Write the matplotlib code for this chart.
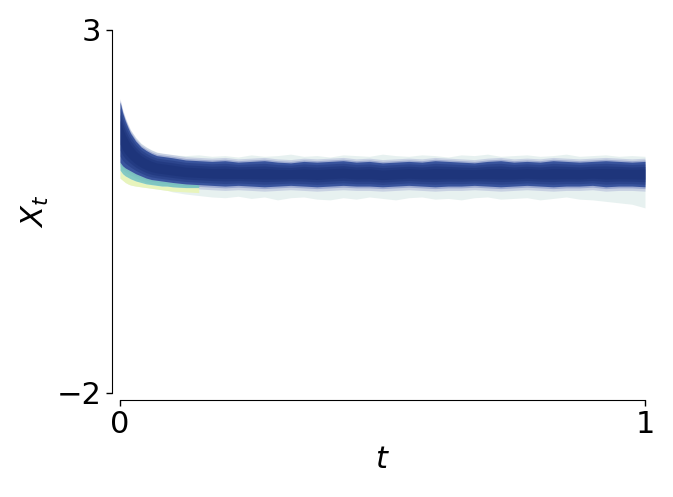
"""Band of simulated paths X_t relaxing from about 2 to about 1."""

import matplotlib.pyplot as plt
import numpy as np

# time grid: dense near t=0 for the decay, then every 0.025
t = [0, 0.005, 0.01, 0.015, 0.02, 0.03, 0.04, 0.05, 0.06, 0.07, 0.08, 0.09] + [
    0.1 + 0.025 * k for k in range(37)
]

# dark core of the paths (upper / lower edge)
core_hi = [2.01, 1.86, 1.75, 1.66, 1.58, 1.47, 1.39, 1.34, 1.30, 1.27, 1.26, 1.25,
           1.24, 1.21, 1.20, 1.19, 1.20, 1.18, 1.19, 1.20, 1.18, 1.17, 1.19, 1.18,
           1.19, 1.20, 1.18, 1.19, 1.17, 1.18, 1.19, 1.18, 1.20, 1.19, 1.18, 1.17,
           1.19, 1.20, 1.18, 1.19, 1.18, 1.20, 1.19, 1.18, 1.19, 1.20, 1.19, 1.18, 1.19]
core_lo = [1.18, 1.13, 1.10, 1.08, 1.06, 1.02, 0.99, 0.96, 0.94, 0.93, 0.92, 0.91,
           0.90, 0.88, 0.87, 0.86, 0.85, 0.86, 0.85, 0.84, 0.85, 0.86, 0.85, 0.84,
           0.85, 0.86, 0.85, 0.85, 0.84, 0.85, 0.86, 0.85, 0.84, 0.85, 0.85, 0.86,
           0.85, 0.84, 0.85, 0.86, 0.85, 0.84, 0.85, 0.85, 0.86, 0.84, 0.85, 0.85, 0.84]

# faint outer paths (upper / lower edge)
halo_hi = [2.01, 1.87, 1.77, 1.69, 1.62, 1.52, 1.44, 1.39, 1.35, 1.32, 1.30, 1.29,
           1.28, 1.27, 1.28, 1.26, 1.27, 1.25, 1.28, 1.26, 1.27, 1.29, 1.26, 1.27,
           1.25, 1.28, 1.27, 1.26, 1.29, 1.27, 1.26, 1.28, 1.27, 1.25, 1.28, 1.27,
           1.29, 1.26, 1.27, 1.28, 1.26, 1.27, 1.29, 1.26, 1.27, 1.28, 1.26, 1.27, 1.26]
halo_lo = [0.96, 0.93, 0.90, 0.88, 0.865, 0.85, 0.84, 0.83, 0.82, 0.81, 0.80, 0.79,
           0.77, 0.74, 0.72, 0.70, 0.69, 0.71, 0.68, 0.70, 0.66, 0.69, 0.70, 0.67,
           0.66, 0.69, 0.67, 0.70, 0.68, 0.66, 0.69, 0.70, 0.67, 0.68, 0.66, 0.69,
           0.70, 0.67, 0.68, 0.69, 0.66, 0.68, 0.70, 0.67, 0.66, 0.64, 0.62, 0.60, 0.55]

# light (low starting) paths during the initial decay
t_start = [0, 0.005, 0.01, 0.015, 0.02, 0.03, 0.04, 0.05, 0.06, 0.07, 0.08, 0.09, 0.1, 0.125, 0.15]
light_top = [1.18, 1.13, 1.10, 1.08, 1.06, 1.02, 0.99, 0.96, 0.94, 0.93, 0.92, 0.91, 0.90, 0.88, 0.87]
light_mid = [1.07, 1.02, 0.99, 0.97, 0.95, 0.92, 0.90, 0.88, 0.87, 0.86, 0.85, 0.85, 0.84, 0.83, 0.83]
light_lo = [0.96, 0.93, 0.90, 0.88, 0.865, 0.85, 0.84, 0.83, 0.82, 0.81, 0.80, 0.79, 0.78, 0.77, 0.76]


def main() -> None:
    fig = plt.figure(figsize=(6.73, 4.97), dpi=100)
    ax = fig.add_axes([120 / 673, 1 - 393 / 497, 525 / 673, 363 / 497])

    tt = np.array(t)
    chi, clo = np.array(core_hi), np.array(core_lo)
    hhi, hlo = np.array(halo_hi), np.array(halo_lo)

    # faint outliers
    ax.fill_between(tt, hlo, hhi, color="#d4e6e4", alpha=0.55, lw=0)
    ax.fill_between(tt, clo - 0.06, chi + 0.045, color="#aab3d6", alpha=0.5, lw=0)
    ax.fill_between(tt, clo - 0.025, chi + 0.02, color="#7d8cc4", alpha=0.55, lw=0)

    # low starting (light coloured) paths
    ax.fill_between(t_start, light_lo, light_mid, color="#e9f5b3", alpha=0.85, lw=0)
    ax.fill_between(t_start, light_mid, light_top, color="#73c4bc", alpha=0.85, lw=0)

    # dense core, a bit darker towards the centre
    ax.fill_between(tt, clo, chi, color="#284594", alpha=0.85, lw=0)
    mid = (chi + clo) / 2
    for k in range(1, 4):
        f = k / 5
        ax.fill_between(tt, clo + f * (mid - clo), chi - f * (chi - mid),
                        color="#152a70", alpha=0.35, lw=0)

    ax.set_xlim(0, 1)
    ax.set_ylim(-2, 3)
    ax.set_xticks([0, 1])
    ax.set_yticks([-2, 3])
    ax.tick_params(labelsize=22, length=4, width=1)
    ax.set_xlabel(r"$t$", fontsize=22)
    ax.set_ylabel(r"$X_t$", fontsize=22)

    for side in ("top", "right"):
        ax.spines[side].set_visible(False)
    ax.spines["left"].set_position(("outward", 5.8))
    ax.spines["bottom"].set_position(("outward", 5.0))

    plt.savefig("out.png", dpi=100)


if __name__ == "__main__":
    main()
